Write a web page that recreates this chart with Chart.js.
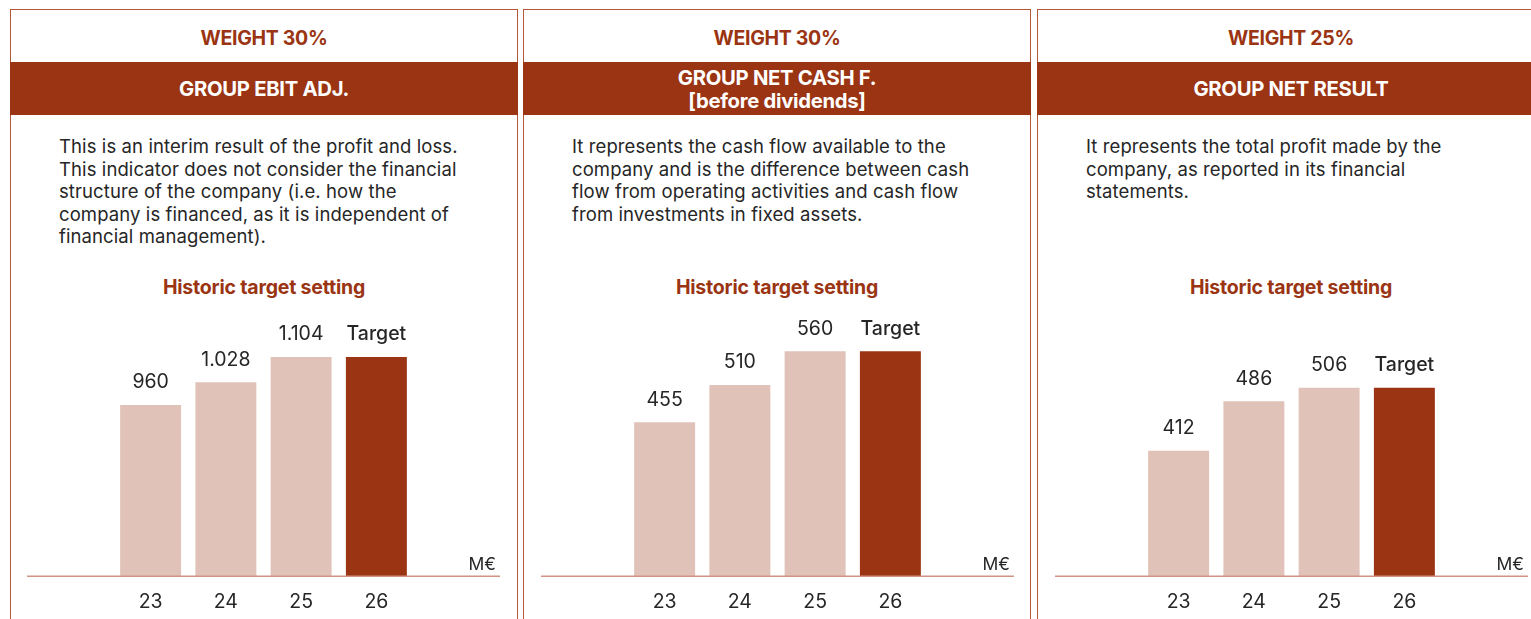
<!DOCTYPE html>
<html>
<head>
<meta charset="utf-8">
<script src="https://cdn.jsdelivr.net/npm/chart.js@4.4.1/dist/chart.umd.min.js"></script>
<style>
  html, body { margin: 0; padding: 0; background: #fff; width: 1531px; height: 619px; overflow: hidden; font-family: Inter, "Noto Sans", sans-serif; }
  .panel { position: absolute; top: 9px; width: 508px; height: 700px; box-sizing: border-box; border: 1px solid #b6563a; }
  .weight { position: absolute; left: 0; right: 0; top: 0; height: 52px; line-height: 56px; text-align: center; color: #9a3412; font-weight: 700; font-size: 19.5px; letter-spacing: -0.3px; }
  .band { position: absolute; left: -1px; right: -1px; top: 52px; height: 53px; background: #9a3412; color: #fff; font-weight: 700; font-size: 20.3px; display: flex; align-items: center; justify-content: center; text-align: center; line-height: 23px; letter-spacing: -0.3px; }
  .desc { position: absolute; left: 48px; top: 125px; font-size: 18.5px; line-height: 22.5px; color: #262626; white-space: nowrap; letter-spacing: 0.1px; }
  .hist { position: absolute; left: 0; right: 0; top: 265px; text-align: center; color: #9a3412; font-weight: 700; font-size: 19.5px; letter-spacing: -0.2px; }
  canvas.chart { position: absolute; top: 300px; width: 473px; height: 319px; }
</style>
</head>
<body>
<div class="panel" style="left:10px">
  <div class="weight">WEIGHT 30%</div>
  <div class="band">GROUP EBIT ADJ.</div>
  <div class="desc">This is an interim result of the profit and loss.<br>This indicator does not consider the financial<br>structure of the company (i.e. how the<br>company is financed, as it is independent of<br>financial management).</div>
  <div class="hist">Historic target setting</div>
</div>
<div class="panel" style="left:523px">
  <div class="weight">WEIGHT 30%</div>
  <div class="band">GROUP NET CASH F.<br>[before dividends]</div>
  <div class="desc">It represents the cash flow available to the<br>company and is the difference between cash<br>flow from operating activities and cash flow<br>from investments in fixed assets.</div>
  <div class="hist">Historic target setting</div>
</div>
<div class="panel" style="left:1037px">
  <div class="weight">WEIGHT 25%</div>
  <div class="band">GROUP NET RESULT</div>
  <div class="desc">It represents the total profit made by the<br>company, as reported in its financial<br>statements.</div>
  <div class="hist">Historic target setting</div>
</div>
<canvas class="chart" id="c1" width="473" height="319" style="left:27px"></canvas>
<canvas class="chart" id="c2" width="473" height="319" style="left:541px"></canvas>
<canvas class="chart" id="c3" width="473" height="319" style="left:1055px"></canvas>
<script>
// ---- data ----
const categories = ['23', '24', '25', '26'];
const ebitValues = [960, 1028, 1104, 1104];   // last bar = target (drawn at 2025 level)
const cashValues = [455, 510, 560, 560];
const netValues  = [412, 486, 506, 506];
const targetLabel = 'Target';
const unitLabel = 'M€';
// value-axis ranges (axis hidden)
const ebitRange = [447, 1275];
const cashRange = [227, 636];
const netRange  = [225, 637];

const LIGHT = '#e0c2b8';
const DARK = '#9a3412';

function fmt(v) {
  const s = String(Math.round(v));
  return s.replace(/\B(?=(\d{3})+(?!\d))/g, '.');
}

const decor = {
  id: 'decor',
  afterDatasetsDraw(chart) {
    const ctx = chart.ctx;
    const area = chart.chartArea;
    const meta = chart.getDatasetMeta(0);
    const data = chart.data.datasets[0].data;
    ctx.save();
    // axis line across full width
    ctx.strokeStyle = '#cf9483';
    ctx.lineWidth = 1.6;
    ctx.beginPath();
    ctx.moveTo(0, area.bottom + 0.2);
    ctx.lineTo(chart.width, area.bottom + 0.2);
    ctx.stroke();
    // value labels
    ctx.textAlign = 'center';
    ctx.textBaseline = 'middle';
    ctx.fillStyle = '#262626';
    meta.data.forEach((bar, i) => {
      const last = i === data.length - 1;
      ctx.font = (last ? '500 ' : '400 ') + '19.5px Inter, "Noto Sans", sans-serif';
      ctx.fillText(last ? targetLabel : fmt(data[i]), bar.x, bar.y - 22.5);
    });
    // unit
    ctx.font = '400 17.5px Inter, "Noto Sans", sans-serif';
    ctx.textAlign = 'right';
    ctx.fillText(unitLabel, chart.width - 4, area.bottom - 11);
    ctx.restore();
  }
};

function makeChart(id, values, range) {
  new Chart(document.getElementById(id), {
    type: 'bar',
    data: {
      labels: categories,
      datasets: [{
        data: values,
        backgroundColor: values.map((v, i) => i === values.length - 1 ? DARK : LIGHT),
        borderWidth: 0,
        categoryPercentage: 1,
        barPercentage: 0.81
      }]
    },
    options: {
      responsive: false,
      animation: false,
      devicePixelRatio: 1,
      layout: { padding: { left: 86, right: 86, top: 0, bottom: 0 } },
      plugins: { legend: { display: false }, tooltip: { enabled: false } },
      scales: {
        y: { display: false, min: range[0], max: range[1] },
        x: {
          grid: { display: false, drawTicks: false },
          border: { display: false },
          ticks: { color: '#262626', font: { family: 'Inter, "Noto Sans", sans-serif', size: 19.5 }, padding: 14 },
          afterFit(s) { s.height = 43; }
        }
      }
    },
    plugins: [decor]
  });
}

makeChart('c1', ebitValues, ebitRange);
makeChart('c2', cashValues, cashRange);
makeChart('c3', netValues, netRange);
</script>
</body>
</html>
